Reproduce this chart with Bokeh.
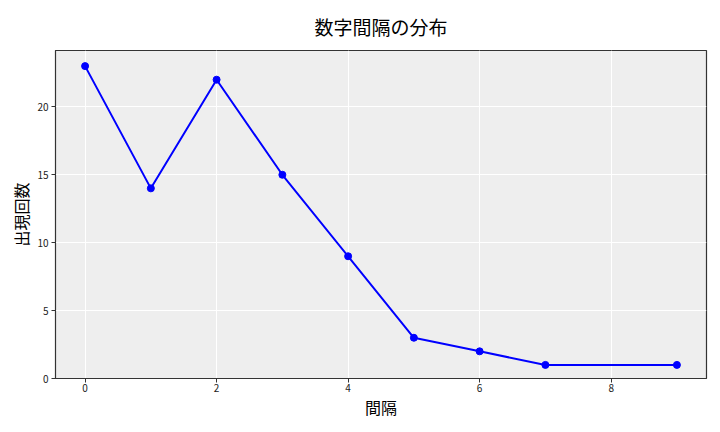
from bokeh.plotting import figure
from bokeh.models import Range1d, FixedTicker
from bokeh.embed import file_html
from bokeh.resources import INLINE

intervals = [0, 1, 2, 3, 4, 5, 6, 7, 9]
counts = [23, 14, 22, 15, 9, 3, 2, 1, 1]
x_ticks = [0, 2, 4, 6, 8]
y_ticks = [0, 5, 10, 15, 20]

FONT = "Noto Sans CJK JP"

p = figure(width=720, height=432, output_backend="svg", toolbar_location=None,
           x_range=Range1d(-0.45, 9.45), y_range=Range1d(0, 24.15),
           min_border_left=55, min_border_right=14, min_border_top=50, min_border_bottom=54)
p.title.text = "数字間隔の分布"
p.title.align = "center"
p.title.vertical_align = "top"
p.title.text_font = FONT
p.title.text_font_size = "19px"
p.title.text_font_style = "normal"
p.title.text_color = "#000000"
p.title.standoff = 18

p.background_fill_color = "#eeeeee"
p.border_fill_color = "white"
p.outline_line_color = "#333333"
p.outline_line_width = 1.2

p.xgrid.grid_line_color = "white"
p.ygrid.grid_line_color = "white"
p.xgrid.grid_line_width = 1
p.ygrid.grid_line_width = 1

p.line(intervals, counts, line_color="#0000ff", line_width=2)
p.scatter(intervals, counts, size=7, fill_color="#0000ff", line_color="#0000ff")

for ax in (p.xaxis[0], p.yaxis[0]):
    ax.axis_line_color = "#333333"
    ax.major_tick_line_color = "#333333"
    ax.major_tick_out = 4
    ax.major_tick_in = 0
    ax.minor_tick_line_color = None
    ax.major_label_text_font = FONT
    ax.major_label_text_font_size = "10px"
    ax.major_label_text_color = "#222222"
    ax.axis_label_text_font = FONT
    ax.axis_label_text_font_size = "16px"
    ax.axis_label_text_font_style = "normal"
    ax.axis_label_text_color = "#000000"

p.xaxis.major_label_standoff = 1
p.xaxis.axis_label_standoff = 0
p.yaxis.major_label_standoff = 3
p.yaxis.axis_label_standoff = 1
p.xaxis.ticker = FixedTicker(ticks=x_ticks)
p.yaxis.ticker = FixedTicker(ticks=y_ticks)
p.xaxis.axis_label = "間隔"
p.yaxis.axis_label = "出現回数"

open("out.html", "w").write(file_html(p, INLINE))
